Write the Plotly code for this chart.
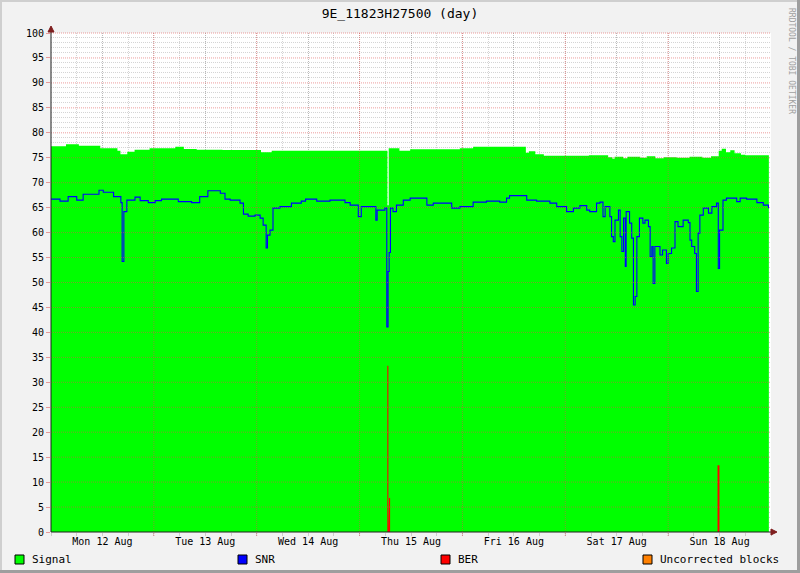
import plotly.graph_objects as go

# ---------------- data (hours since Mon 12 Aug 00:00) ----------------
signal_hours = [0, 3.5, 6.5, 11.5, 15.5, 16.2, 17.8, 19.5, 23.0, 29.0, 31.0, 34.0, 40.0,
                49.0, 51.5, 78.5, 78.8, 81.3, 83.8, 95.4, 98.5, 110.8, 111.5, 113.0, 115.0,
                125.5, 130.0, 131.0, 131.5, 133.5, 134.5, 137.5, 139.0, 141.0, 143.0, 146.0,
                149.0, 152.0, 154.0, 155.8, 156.5, 157.5, 158.5, 159.5, 161.0, 162.0, 167.5]
signal_vals = [77.3, 77.7, 77.4, 76.9, 76.4, 75.7, 76.2, 76.6, 76.9, 77.2, 76.75, 76.6, 76.55,
               76.1, 76.4, 65.5, 76.9, 76.4, 76.7, 76.9, 77.2, 76.0, 76.3, 75.7, 75.4,
               75.5, 75.1, 74.8, 75.2, 74.9, 75.2, 75.0, 75.3, 74.9, 75.1, 75.0,
               75.2, 75.0, 75.3, 76.4, 76.8, 76.1, 76.5, 75.9, 75.6, 75.5, 75.4]

snr_hours = [0.0, 2.1, 4.0, 6.0, 7.5, 11.2, 12.2, 14.6, 16.3, 16.6, 17.0, 17.7, 19.6, 20.8,
             22.7, 24.3, 25.8, 29.7, 32.8, 34.7, 36.6, 39.5, 40.6, 41.8, 44.1, 44.9, 46.0,
             47.6, 48.8, 49.5, 50.2, 50.5, 51.1, 51.8, 53.4, 56.1, 58.4, 59.4, 62.0, 65.1,
             68.6, 69.8, 71.7, 72.4, 75.8, 76.1, 77.9, 78.35, 78.65, 78.9, 79.2, 79.8, 80.6,
             82.2, 83.8, 87.7, 89.2, 93.5, 95.4, 98.5, 101.6, 104.7, 106.3, 107.0, 111.0,
             113.3, 116.4, 118.0, 120.3, 121.9, 123.4, 125.0, 125.7, 127.3, 128.1, 128.8,
             129.3, 130.4, 130.8, 131.2, 131.6, 132.4, 132.8, 133.2, 133.6, 134.0, 134.2,
             135.0, 135.5, 135.9, 136.3, 136.7, 137.3, 138.1, 138.6, 139.4, 139.8, 140.2,
             140.5, 140.9, 142.1, 142.7, 143.6, 144.0, 144.8, 145.6, 146.3, 147.5, 148.7,
             149.1, 149.5, 150.2, 150.6, 151.0, 151.4, 152.2, 153.4, 154.2, 155.3, 155.7,
             156.0, 156.8, 157.6, 160.0, 160.8, 162.3, 164.7, 166.2, 167.4]
snr_vals = [66.7, 66.3, 67.2, 66.5, 67.7, 68.5, 68.1, 67.2, 66.0, 54.2, 64.2, 66.5, 67.1, 66.4,
            66.0, 66.4, 66.7, 66.2, 66.0, 67.2, 68.4, 67.9, 66.7, 66.5, 65.9, 63.7, 63.3,
            63.5, 62.9, 61.5, 56.9, 59.5, 60.5, 64.9, 65.2, 65.9, 66.3, 66.7, 66.3, 66.5,
            66.0, 65.5, 63.2, 65.2, 62.5, 64.5, 64.9, 41.1, 52.2, 56.0, 64.9, 64.2, 65.5,
            66.5, 66.9, 65.5, 65.9, 64.9, 65.2, 66.1, 66.3, 66.1, 66.9, 67.4, 66.5,
            66.3, 65.9, 65.2, 64.2, 64.9, 65.4, 64.5, 64.2, 65.9, 66.1, 63.2,
            65.2, 63.2, 59.2, 58.2, 62.5, 64.5, 59.2, 56.2, 62.9, 53.2, 64.2,
            61.9, 58.9, 45.5, 47.2, 59.2, 62.9, 61.9, 62.5, 61.2, 55.2, 57.2,
            49.8, 57.2, 55.5, 56.5, 53.8, 55.8, 56.9, 62.2, 61.2, 62.5, 62.0,
            58.5, 57.2, 55.8, 48.2, 59.9, 63.5, 64.9, 63.9, 65.2, 65.9, 52.8,
            60.5, 66.5, 66.9, 66.2, 66.9, 66.7, 66.0, 65.5, 64.9]

ber_hours = [78.6, 79.0, 155.75]
ber_vals = [33.3, 6.8, 13.4]
ber_widths = [0.25, 0.25, 0.45]

day_ticks = [12, 36, 60, 84, 108, 132, 156]
day_labels = ["Mon 12 Aug", "Tue 13 Aug", "Wed 14 Aug", "Thu 15 Aug",
              "Fri 16 Aug", "Sat 17 Aug", "Sun 18 Aug"]
legend_names = ["Signal", "SNR", "BER", "Uncorrected blocks"]
legend_colors = ["#00FF00", "#0000FF", "#FF0000", "#FF8000"]

# ---------------- layout geometry ----------------
WIDTH, HEIGHT = 800, 573
L, T, PW, PH = 51, 33, 720, 499
R = WIDTH - L - PW
B = HEIGHT - T - PH
FONT = "DejaVu Sans Mono"
GRID = "rgba(143,143,143,0.38)"
MGRID = "rgba(222,79,79,0.55)"


def fx(px):
    return (px - L) / PW


def fy(py):
    return (T + PH - py) / PH


# BER spikes as stepped area built from the data arrays
ber_x, ber_y = [], []
for h, v, w in zip(ber_hours, ber_vals, ber_widths):
    ber_x += [h - w / 2, h - w / 2, h + w / 2, h + w / 2]
    ber_y += [0, v, v, 0]

fig = go.Figure()
fig.add_trace(go.Scatter(x=signal_hours, y=signal_vals, mode="lines", line_shape="hv",
                         line=dict(width=0, color="#00FF00"), fill="tozeroy",
                         fillcolor="#00FF00", name="Signal", showlegend=False))
fig.add_trace(go.Scatter(x=ber_x, y=ber_y, mode="lines", line=dict(width=0, color="#FF0000"),
                         fill="tozeroy", fillcolor="#FF0000", name="BER", showlegend=False))
fig.add_trace(go.Scatter(x=snr_hours, y=snr_vals, mode="lines", line_shape="hv",
                         line=dict(width=1.1, color="#0000FF"), name="SNR", showlegend=False))

shapes = []
# major grid above the data (red dotted)
for d in range(1, 7):
    shapes.append(dict(type="line", xref="x", yref="paper", x0=d * 24, x1=d * 24,
                       y0=-4 / PH, y1=1, layer="above",
                       line=dict(color=MGRID, width=1, dash="1px,1px")))
for v in range(5, 101, 5):
    shapes.append(dict(type="line", xref="paper", yref="paper", x0=0, x1=1,
                       y0=v / 100, y1=v / 100, layer="above",
                       line=dict(color=MGRID, width=1, dash="1px,1px")))
# axes lines and arrows
ARROW = "#801F1F"
shapes.append(dict(type="line", xref="paper", yref="paper", x0=0, x1=fx(776), y0=0, y1=0,
                   layer="above", line=dict(color="#1F1F1F", width=1)))
shapes.append(dict(type="line", xref="paper", yref="paper", x0=0, x1=0, y0=0, y1=fy(27),
                   layer="above", line=dict(color="#1F1F1F", width=1)))
shapes.append(dict(type="path", xref="paper", yref="paper", layer="above",
                   path=f"M {fx(771)} {fy(529)} L {fx(777)} {fy(532)} L {fx(771)} {fy(535)} Z",
                   fillcolor=ARROW, line=dict(color=ARROW, width=1)))
shapes.append(dict(type="path", xref="paper", yref="paper", layer="above",
                   path=f"M {fx(48)} {fy(32)} L {fx(51)} {fy(26)} L {fx(54)} {fy(32)} Z",
                   fillcolor=ARROW, line=dict(color=ARROW, width=1)))
# outer 3D frame
shapes += [
    dict(type="rect", xref="paper", yref="paper", x0=fx(0), x1=fx(800), y0=fy(2), y1=fy(0),
         fillcolor="#CFCFCF", line=dict(width=0), layer="above"),
    dict(type="rect", xref="paper", yref="paper", x0=fx(0), x1=fx(2), y0=fy(573), y1=fy(0),
         fillcolor="#CFCFCF", line=dict(width=0), layer="above"),
    dict(type="rect", xref="paper", yref="paper", x0=fx(0), x1=fx(800), y0=fy(573), y1=fy(570),
         fillcolor="#9E9E9E", line=dict(width=0), layer="above"),
    dict(type="rect", xref="paper", yref="paper", x0=fx(797), x1=fx(800), y0=fy(573), y1=fy(0),
         fillcolor="#9E9E9E", line=dict(width=0), layer="above"),
]

annotations = []
legend_x = [15, 238, 441, 643]
for name, col, lx in zip(legend_names, legend_colors, legend_x):
    shapes.append(dict(type="rect", xref="paper", yref="paper", x0=fx(lx), x1=fx(lx + 9),
                       y0=fy(564), y1=fy(555), fillcolor=col,
                       line=dict(color="#000000", width=1), layer="above"))
    annotations.append(dict(xref="paper", yref="paper", x=fx(lx + 15), y=fy(559.5),
                            xanchor="left", yanchor="middle", showarrow=False, text=name,
                            font=dict(family=FONT, size=11, color="#000000")))
annotations.append(dict(xref="paper", yref="paper", x=fx(791), y=fy(61), textangle=90,
                        xanchor="center", yanchor="middle", showarrow=False,
                        text="RRDTOOL / TOBI OETIKER",
                        font=dict(family=FONT, size=8, color="#A0A0A0")))

fig.update_layout(
    width=WIDTH, height=HEIGHT,
    margin=dict(l=L, r=R, t=T, b=B, pad=0),
    paper_bgcolor="#F2F2F2", plot_bgcolor="#FFFFFF",
    title=dict(text="9E_11823H27500 (day)", x=0.5, xref="container", xanchor="center",
               y=1 - 13.5 / HEIGHT, yanchor="middle", yref="container",
               font=dict(family=FONT, size=13, color="#000000")),
    font=dict(family=FONT, size=10, color="#000000"),
    showlegend=False,
    shapes=shapes, annotations=annotations,
    xaxis=dict(range=[0, 168], tickvals=day_ticks, ticktext=day_labels,
               showgrid=True, gridcolor=GRID, griddash="1px,1px", gridwidth=1,
               ticks="outside", ticklen=0, tickcolor=GRID, zeroline=False, showline=False,
               tickfont=dict(family=FONT, size=10, color="#000000"),
               minor=dict(dtick=6, tick0=0, showgrid=True, gridcolor=GRID,
                          griddash="1px,1px", ticks="outside", ticklen=3, tickcolor=GRID)),
    yaxis=dict(range=[0, 100], dtick=5, tick0=0, showgrid=False, zeroline=False,
               showline=False, ticks="outside", ticklen=4, tickcolor=MGRID,
               tickfont=dict(family=FONT, size=10, color="#000000"),
               minor=dict(dtick=1, tick0=0, showgrid=True, gridcolor=GRID,
                          griddash="1px,1px")),
)

fig.write_html("out.html", config={"displayModeBar": False},
               post_script="document.body.style.margin='0';document.body.style.overflow='hidden';")
